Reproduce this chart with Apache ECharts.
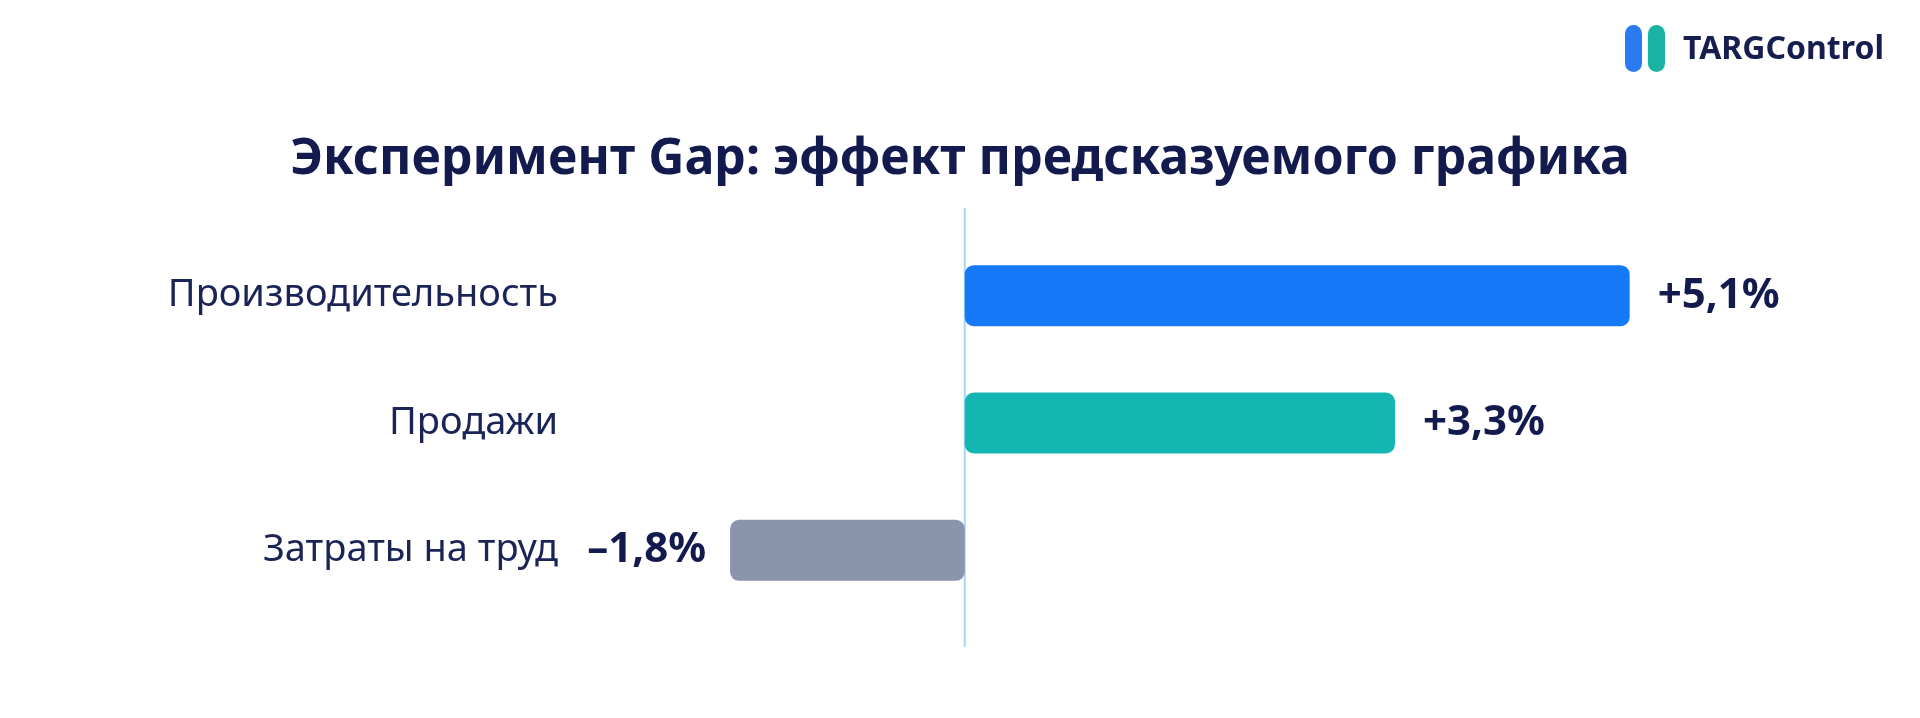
<!DOCTYPE html>
<html>
<head>
<meta charset="utf-8">
<script src="https://cdn.jsdelivr.net/npm/echarts@6/dist/echarts.min.js"></script>
<style>
html,body{margin:0;padding:0;background:#ffffff;}
#chart{width:1920px;height:718px;}
</style>
</head>
<body>
<div id="chart"></div>
<script>
const titleText = 'Эксперимент Gap: эффект предсказуемого графика';
const categories = ['Производительность', 'Продажи', 'Затраты на труд'];
const values = [5.1, 3.3, -1.8];
const labels = ['+5,1%', '+3,3%', '\u20131,8%'];
const barColors = ['#1679f7', '#14b6b1', '#8a94ad'];

const chart = echarts.init(document.getElementById('chart'), null, {renderer: 'canvas'});
const navy = '#131b4e';

const option = {
  backgroundColor: '#ffffff',
  animation: false,
  title: {
    text: titleText,
    left: 'center',
    top: 130,
    textStyle: {
      fontFamily: 'Noto Sans',
      fontWeight: 'bold',
      fontSize: 50,
      color: navy
    }
  },
  grid: {left: 704, right: 173, top: 232, height: 382, containLabel: false},
  xAxis: {
    type: 'value',
    min: -2,
    max: 6,
    show: false,
    splitLine: {show: false}
  },
  yAxis: {
    type: 'category',
    inverse: true,
    data: categories,
    axisLine: {show: false, onZero: false},
    axisTick: {show: false},
    splitLine: {show: false},
    axisLabel: {
      margin: 146,
      fontFamily: 'Noto Sans',
      fontSize: 38,
      color: '#1b2456'
    }
  },
  series: [{
    type: 'bar',
    barWidth: 61,
    data: values.map((v, i) => ({
      value: v,
      itemStyle: {color: barColors[i], borderRadius: 9},
      label: {
        show: true,
        position: v >= 0 ? 'right' : 'left',
        distance: v >= 0 ? 28 : 24,
        formatter: labels[i],
        fontFamily: 'Noto Sans',
        fontWeight: 'bold',
        fontSize: 42,
        color: navy
      }
    }))
  }]
};
chart.setOption(option);

const zeroX = chart.convertToPixel({xAxisIndex: 0}, 0);
chart.setOption({
  graphic: [
    {type: 'line', shape: {x1: zeroX, y1: 208, x2: zeroX, y2: 647}, style: {stroke: '#a5d6f6', lineWidth: 2}, z: 0},
    {type: 'rect', shape: {x: 1625, y: 25, width: 17, height: 47, r: 8.5}, style: {fill: '#2a7bf2'}},
    {type: 'rect', shape: {x: 1648, y: 25, width: 17, height: 47, r: 8.5}, style: {fill: '#1ab3a3'}},
    {type: 'text', x: 1683, y: 50, style: {text: 'TARGControl', fontFamily: 'Noto Sans', fontWeight: 'bold', fontSize: 32, fill: '#161d4f', textVerticalAlign: 'middle', verticalAlign: 'middle'}}
  ]
});
</script>
</body>
</html>
